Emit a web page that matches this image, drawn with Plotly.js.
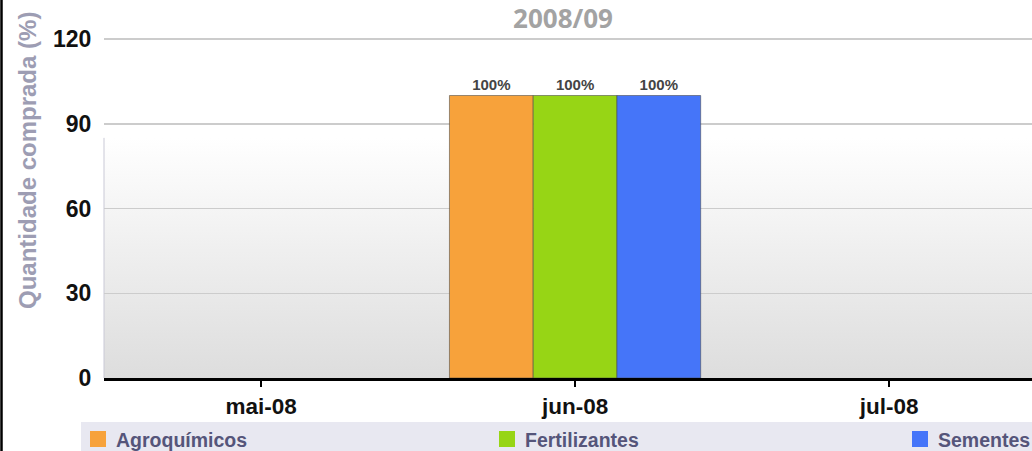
<!DOCTYPE html>
<html>
<head>
<meta charset="utf-8">
<script src="https://cdn.plot.ly/plotly-3.0.1.min.js"></script>
<style>html,body{margin:0;padding:0;background:#fff;}#chart{width:1032px;height:451px;}</style>
</head>
<body>
<div id="chart"></div>
<script>
const categories = ["mai-08", "jun-08", "jul-08"];
const seriesNames = ["Agroquímicos", "Fertilizantes", "Sementes"];
const agroquimicos = [null, 100, null];
const fertilizantes = [null, 100, null];
const sementes = [null, 100, null];
const yTicks = [0, 30, 60, 90, 120];
const chartTitle = "2008/09";
const yTitle = "Quantidade comprada (%)";

const colors = ["#f7a23b", "#97d515", "#4575f9"];
const seriesValues = [agroquimicos, fertilizantes, sementes];

const traces = seriesValues.map((vals, i) => ({
  type: "bar",
  name: seriesNames[i],
  x: categories,
  y: vals,
  showlegend: false,
  marker: { color: colors[i], line: { color: "rgba(70,70,70,0.55)", width: 1 } },
  text: vals.map(v => v == null ? "" : v + "%"),
  textposition: "outside",
  cliponaxis: false,
  textfont: { family: "Liberation Sans, Arial, sans-serif", size: 15, color: "#444444", weight: "bold" },
  hoverinfo: "none"
}));

const gradSvg = '<svg xmlns="http://www.w3.org/2000/svg" width="100" height="100" preserveAspectRatio="none">' +
  '<defs><linearGradient id="g" x1="0" y1="0" x2="0" y2="1">' +
  '<stop offset="0" stop-color="#ffffff"/><stop offset="1" stop-color="#dddddd"/></linearGradient></defs>' +
  '<rect x="0" y="0" width="100" height="100" fill="url(#g)"/></svg>';
const gradUri = "data:image/svg+xml;base64," + btoa(gradSvg);

// pixel helpers for decorations (plot area: left 104, width 928, bottom 378, height 342)
const plotL = 104, plotW = 928, plotT = 36, plotB = 378, plotH = 342;
const px = x => (x - plotL) / plotW;
const py = y => (plotB - y) / plotH;
const yTop = 121.06;
const gradTop = 85;

// manual legend layout (decoration)
const legendStarts = [90, 499, 912];
const legendShapes = seriesNames.map((n, i) => ({
  type: "rect", xref: "paper", yref: "paper",
  x0: px(legendStarts[i]), x1: px(legendStarts[i] + 16),
  y0: py(447), y1: py(431),
  fillcolor: colors[i], line: { width: 0 }
}));
const legendTexts = seriesNames.map((n, i) => ({
  text: n, xref: "paper", yref: "paper",
  x: px(legendStarts[i] + 24), y: py(440), xanchor: "left", yanchor: "middle",
  showarrow: false,
  font: { family: "Liberation Sans, Arial, sans-serif", size: 19.5, color: "#55557a", weight: "bold" }
}));

const layout = {
  width: 1032, height: 451,
  margin: { l: plotL, r: 0, t: plotT, b: 451 - plotB },
  paper_bgcolor: "#ffffff",
  plot_bgcolor: "rgba(0,0,0,0)",
  barmode: "group",
  bargap: 0.2,
  bargroupgap: 0,
  showlegend: false,
  title: {
    text: chartTitle,
    font: { family: "Open Sans, sans-serif", size: 26, color: "#a3a3a3", weight: "bold" },
    xref: "paper", x: px(563), xanchor: "center",
    yref: "container", y: 1 - 18.5 / 451, yanchor: "middle"
  },
  xaxis: {
    type: "category",
    range: [-0.5, 2.455],
    showgrid: false,
    showline: true, linecolor: "#000000", linewidth: 3,
    ticks: "outside", ticklen: 6, tickwidth: 2, tickcolor: "#000000",
    tickfont: { family: "Liberation Sans, Arial, sans-serif", size: 22.5, color: "#111111", weight: "bold" },
    fixedrange: true
  },
  yaxis: {
    range: [0, yTop],
    tickvals: yTicks,
    ticktext: yTicks.map(String),
    showgrid: true, gridcolor: "#cccccc", gridwidth: 1.5,
    zeroline: false, showline: false,
    ticks: "outside", ticklen: 7, tickcolor: "rgba(0,0,0,0)",
    tickfont: { family: "Liberation Sans, Arial, sans-serif", size: 23, color: "#111111", weight: "bold" },
    fixedrange: true
  },
  images: [{
    source: gradUri, xref: "paper", yref: "y",
    x: 0, y: gradTop, sizex: 1, sizey: gradTop, sizing: "stretch",
    xanchor: "left", yanchor: "top", layer: "below"
  }],
  shapes: [
    { type: "line", xref: "paper", yref: "y", x0: 0, x1: 0, y0: 0, y1: gradTop,
      line: { color: "#c9c9d6", width: 1 }, layer: "below" },
    { type: "line", xref: "paper", yref: "paper", x0: px(1.5), x1: px(1.5), y0: -2, y1: 2,
      line: { color: "#000000", width: 2.5 } },
    { type: "rect", xref: "paper", yref: "paper", x0: px(81), x1: px(1040), y0: py(460), y1: py(422),
      fillcolor: "#e8e8f1", line: { width: 0 }, layer: "below" }
  ].concat(legendShapes),
  annotations: [{
    text: yTitle, xref: "paper", yref: "paper",
    x: px(27), y: py(161), xanchor: "center", yanchor: "middle",
    textangle: -90, showarrow: false,
    font: { family: "Liberation Sans, Arial, sans-serif", size: 24, color: "#9d9db3", weight: "bold" }
  }].concat(legendTexts),
  hovermode: false
};

Plotly.newPlot("chart", traces, layout, { displayModeBar: false, staticPlot: true });
</script>
</body>
</html>
